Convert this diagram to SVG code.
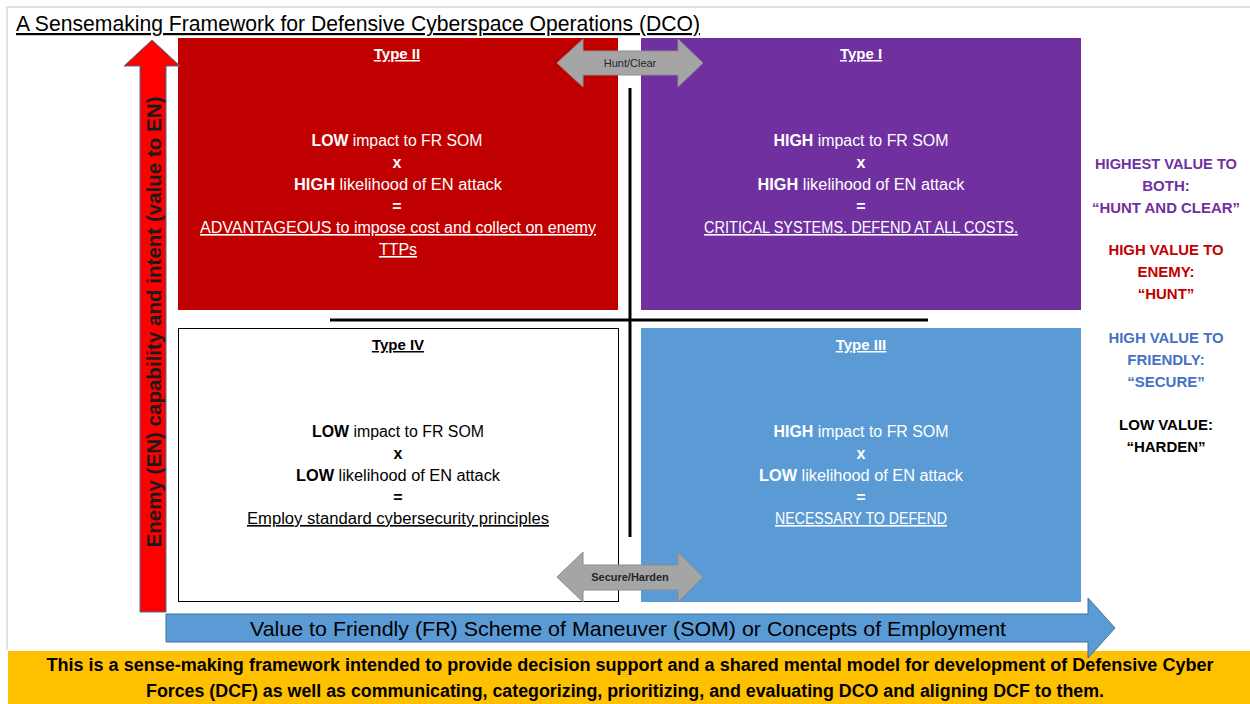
<svg xmlns="http://www.w3.org/2000/svg" width="1250" height="704" viewBox="0 0 1250 704">
<style>
text{font-family:"Liberation Sans",Arial,sans-serif;}
.q{font-size:16px;text-anchor:middle;}
.w{fill:#ffffff;}
.k{fill:#000000;}
.t{font-size:15px;font-weight:bold;text-anchor:middle;text-decoration:underline;}
.u{text-decoration:underline;}
.b{font-weight:bold;}
.r{font-size:15px;font-weight:bold;text-anchor:middle;}
.dbl{fill:#A5A5A5;stroke:#8C8C8C;stroke-width:1;}
.lbl{font-size:11px;text-anchor:middle;fill:#262626;}
</style>
<rect x="0" y="0" width="1250" height="704" fill="#ffffff"/>
<path d="M7,650 L7,7 L1250,7" fill="none" stroke="#D9D9D9" stroke-width="1.5"/>
<text x="16" y="31" font-size="22" fill="#000" text-decoration="underline" textLength="684" lengthAdjust="spacingAndGlyphs">A Sensemaking Framework for Defensive Cyberspace Operations (DCO)</text>

<g id="type2">
<rect x="178" y="38" width="440" height="272" fill="#C00000"/>
<text class="t w" x="397" y="59">Type II</text>
<text class="q w" x="397" y="146" textLength="171" lengthAdjust="spacingAndGlyphs"><tspan class="b">LOW</tspan> impact to FR SOM</text>
<text class="q w b" x="397" y="168">x</text>
<text class="q w" x="398" y="190" textLength="208" lengthAdjust="spacingAndGlyphs"><tspan class="b">HIGH</tspan> likelihood of EN attack</text>
<text class="q w b" x="397" y="212">=</text>
<text class="q w u" x="398" y="233" textLength="396" lengthAdjust="spacingAndGlyphs">ADVANTAGEOUS to impose cost and collect on enemy</text>
<text class="q w u" x="398" y="255">TTPs</text>
</g>

<g id="type1">
<rect x="641" y="38" width="440" height="272" fill="#7030A0"/>
<text class="t w" x="861" y="59">Type I</text>
<text class="q w" x="861" y="146" textLength="175" lengthAdjust="spacingAndGlyphs"><tspan class="b">HIGH</tspan> impact to FR SOM</text>
<text class="q w b" x="861" y="168">x</text>
<text class="q w" x="861" y="190" textLength="207" lengthAdjust="spacingAndGlyphs"><tspan class="b">HIGH</tspan> likelihood of EN attack</text>
<text class="q w b" x="861" y="212">=</text>
<text class="q w u" x="861" y="233" textLength="314" lengthAdjust="spacingAndGlyphs">CRITICAL SYSTEMS. DEFEND AT ALL COSTS.</text>
</g>

<g id="type4">
<rect x="178.5" y="328.5" width="440" height="273" fill="#ffffff" stroke="#000" stroke-width="1"/>
<text class="t k" x="398" y="350">Type IV</text>
<text class="q k" x="398" y="437" textLength="172" lengthAdjust="spacingAndGlyphs"><tspan class="b">LOW</tspan> impact to FR SOM</text>
<text class="q k b" x="398" y="459">x</text>
<text class="q k" x="398" y="481" textLength="204" lengthAdjust="spacingAndGlyphs"><tspan class="b">LOW</tspan> likelihood of EN attack</text>
<text class="q k b" x="398" y="503">=</text>
<text class="q k u" x="398" y="524" textLength="302" lengthAdjust="spacingAndGlyphs">Employ standard cybersecurity principles</text>
</g>

<g id="type3">
<rect x="641" y="328" width="440" height="274" fill="#5B9BD5"/>
<text class="t w" x="861" y="350">Type III</text>
<text class="q w" x="861" y="437" textLength="175" lengthAdjust="spacingAndGlyphs"><tspan class="b">HIGH</tspan> impact to FR SOM</text>
<text class="q w b" x="861" y="459">x</text>
<text class="q w" x="861" y="481" textLength="204" lengthAdjust="spacingAndGlyphs"><tspan class="b">LOW</tspan> likelihood of EN attack</text>
<text class="q w b" x="861" y="503">=</text>
<text class="q w u" x="861" y="524" textLength="172" lengthAdjust="spacingAndGlyphs">NECESSARY TO DEFEND</text>
</g>

<g id="legend">
<text class="r" fill="#7030A0" x="1166" y="169" textLength="142" lengthAdjust="spacingAndGlyphs">HIGHEST VALUE TO</text>
<text class="r" fill="#7030A0" x="1166" y="191">BOTH:</text>
<text class="r" fill="#7030A0" x="1166" y="213" textLength="148" lengthAdjust="spacingAndGlyphs">“HUNT AND CLEAR”</text>
<text class="r" fill="#C00000" x="1166" y="255" textLength="115" lengthAdjust="spacingAndGlyphs">HIGH VALUE TO</text>
<text class="r" fill="#C00000" x="1166" y="277">ENEMY:</text>
<text class="r" fill="#C00000" x="1166" y="299">“HUNT”</text>
<text class="r" fill="#4472C4" x="1166" y="343" textLength="115" lengthAdjust="spacingAndGlyphs">HIGH VALUE TO</text>
<text class="r" fill="#4472C4" x="1166" y="365">FRIENDLY:</text>
<text class="r" fill="#4472C4" x="1166" y="387">“SECURE”</text>
<text class="r" fill="#000" x="1166" y="430">LOW VALUE:</text>
<text class="r" fill="#000" x="1166" y="452">“HARDEN”</text>
</g>

<g id="footer">
<rect x="8" y="651" width="1242" height="53" fill="#FFC000"/>
<text x="630" y="671" font-size="18" font-weight="bold" text-anchor="middle" fill="#000" textLength="1167" lengthAdjust="spacingAndGlyphs">This is a sense-making framework intended to provide decision support and a shared mental model for development of Defensive Cyber</text>
<text x="625" y="697" font-size="18" font-weight="bold" text-anchor="middle" fill="#000" textLength="958" lengthAdjust="spacingAndGlyphs">Forces (DCF) as well as communicating, categorizing, prioritizing, and evaluating DCO and aligning DCF to them.</text>
</g>

<g id="connectors">
<line x1="630" y1="88" x2="630" y2="537" stroke="#000" stroke-width="3"/>
<line x1="330" y1="320" x2="928" y2="320" stroke="#000" stroke-width="3"/>
<g id="y-axis">
<path d="M140,612 L140,66 L124,66 L152,40 L180,66 L166,66 L166,612 Z" fill="#FF0000" stroke="#41719C" stroke-width="1"/>
<text transform="translate(161,322) rotate(-90)" font-size="21" font-weight="bold" text-anchor="middle" fill="#1a1a1a" textLength="451" lengthAdjust="spacingAndGlyphs">Enemy (EN) capability and intent (value to EN)</text>
</g>
<g id="x-axis">
<path d="M166,614 L1088,614 L1088,598 L1115,628 L1088,658 L1088,642 L166,642 Z" fill="#5B9BD5" stroke="#41719C" stroke-width="1"/>
<text x="628" y="636" font-size="21" text-anchor="middle" fill="#000" textLength="756" lengthAdjust="spacingAndGlyphs">Value to Friendly (FR) Scheme of Maneuver (SOM) or Concepts of Employment</text>
</g>
<g id="hunt-clear">
<path class="dbl" d="M557,63 L583,39 L583,51 L678,51 L678,39 L703,63 L678,87 L678,75 L583,75 L583,87 Z"/>
<text class="lbl" x="630" y="67">Hunt/Clear</text>
</g>
<g id="secure-harden">
<path class="dbl" d="M557,577 L583,552 L583,565 L678,565 L678,552 L703,577 L678,602 L678,590 L583,590 L583,602 Z"/>
<text class="lbl b" x="630" y="581">Secure/Harden</text>
</g>
</g>
</svg>
